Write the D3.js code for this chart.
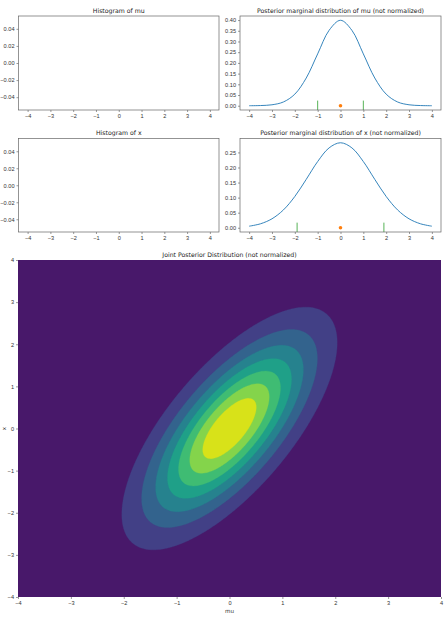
<!DOCTYPE html>
<html>
<head>
<meta charset="utf-8">
<script src="https://cdn.jsdelivr.net/npm/d3@7"></script>
<style>
  body { margin: 0; background: #fff; }
  svg { display: block; font-family: "DejaVu Sans", sans-serif; }
  .tick text { fill: #333; }
  .tick line { stroke: #555; }
</style>
</head>
<body>
<div id="chart"></div>
<script>
// sample points
var gridX = [-4, -3.5, -3, -2.5, -2, -1.5, -1, -0.5, 0, 0.5, 1, 1.5, 2, 2.5, 3, 3.5, 4]
var muDensity = [0.0001, 0.0009, 0.0044, 0.0175, 0.054, 0.1295, 0.242, 0.352, 0.399,
                 0.352, 0.242, 0.1295, 0.054, 0.0175, 0.0044, 0.0009, 0.0001]
var xDensity = [0.0052, 0.0132, 0.0297, 0.0591, 0.1038, 0.1607, 0.2197, 0.265, 0.2821,
                0.265, 0.2197, 0.1607, 0.1038, 0.0591, 0.0297, 0.0132, 0.0052]
var muMarks = [-1, 1]
var xMarks = [-1.9, 1.9]
var pointEstimate = [0, 0]
var xTicks = [-4, -3, -2, -1, 0, 1, 2, 3, 4]
var histTicks = [-0.04, -0.02, 0, 0.02, 0.04]
var muTicks = [0, 0.05, 0.1, 0.15, 0.2, 0.25, 0.3, 0.35, 0.4]
var xdTicks = [0, 0.05, 0.1, 0.15, 0.2, 0.25]
// joint posterior: mean and covariance of (mu, x), contour levels
var jointMean = [0, 0]
var jointCov = [[1, 1], [1, 2]]
var levels = [0, 0.02, 0.04, 0.06, 0.08, 0.1, 0.12, 0.14, 0.16]

var W = 445, H = 617
var svg = d3.select('#chart').append('svg').attr('width', W).attr('height', H)
var tickSize = 5.6

function axesBox(box, xDom, yDom, yTicks, yFmt, title){
  var xs = d3.scaleLinear().domain(xDom).range([box.l, box.r])
  var ys = d3.scaleLinear().domain(yDom).range([box.b, box.t])
  var g = svg.append('g')
  var gx = g.append('g').attr('transform', 'translate(0,' + box.b + ')')
    .call(d3.axisBottom(xs).tickValues(xTicks).tickSize(2).tickPadding(2).tickFormat(d3.format('d')))
  var gy = g.append('g').attr('transform', 'translate(' + box.l + ',0)')
    .call(d3.axisLeft(ys).tickValues(yTicks).tickSize(2).tickPadding(2).tickFormat(d3.format(yFmt)))
  g.selectAll('.domain').remove()
  g.selectAll('.tick text').attr('font-size', tickSize)
  g.selectAll('.tick line').attr('stroke-width', 0.6)
  g.append('text').attr('x', (box.l + box.r) / 2).attr('y', box.t - 3.5)
    .attr('text-anchor', 'middle').attr('font-size', 6.2).attr('fill', '#222').text(title)
  return {g: g, xs: xs, ys: ys}
}

function frame(g, box){
  g.append('rect').attr('x', box.l).attr('y', box.t)
    .attr('width', box.r - box.l).attr('height', box.b - box.t)
    .attr('fill', 'none').attr('stroke', '#666').attr('stroke-width', 0.7)
}

var left = {l: 18.5, r: 219}, right = {l: 240, r: 441}
var row1 = {t: 16, b: 110}, row2 = {t: 138.5, b: 232}

// empty histograms
var h1 = axesBox({l: left.l, r: left.r, t: row1.t, b: row1.b}, [-4.4, 4.4], [-0.055, 0.055], histTicks, '.2f', 'Histogram of mu')
frame(h1.g, {l: left.l, r: left.r, t: row1.t, b: row1.b})
var h2 = axesBox({l: left.l, r: left.r, t: row2.t, b: row2.b}, [-4.4, 4.4], [-0.055, 0.055], histTicks, '.2f', 'Histogram of x')
frame(h2.g, {l: left.l, r: left.r, t: row2.t, b: row2.b})

function marginal(rowBox, dens, marks, ticks, title){
  var box = {l: right.l, r: right.r, t: rowBox.t, b: rowBox.b}
  var mx = d3.max(dens)
  var a = axesBox(box, [-4.4, 4.4], [-0.05 * mx, 1.05 * mx], ticks, '.2f', title)
  var line = d3.line().x(function(d){ return a.xs(d[0]) }).y(function(d){ return a.ys(d[1]) })
    .curve(d3.curveCatmullRom)
  a.g.append('path').datum(d3.zip(gridX, dens)).attr('d', line)
    .attr('fill', 'none').attr('stroke', '#1f77b4').attr('stroke-width', 0.9)
  // vertical marks spanning the lower tenth of the axes
  a.g.selectAll('line.mark').data(marks).enter().append('line').attr('class', 'mark')
    .attr('x1', function(d){ return a.xs(d) }).attr('x2', function(d){ return a.xs(d) })
    .attr('y1', box.b).attr('y2', box.b - 0.1 * (box.b - box.t))
    .attr('stroke', '#2ca02c').attr('stroke-width', 0.8)
  a.g.append('circle').attr('cx', a.xs(pointEstimate[0])).attr('cy', a.ys(pointEstimate[1]))
    .attr('r', 1.8).attr('fill', '#ff7f0e')
  frame(a.g, box)
}

marginal(row1, muDensity, muMarks, muTicks, 'Posterior marginal distribution of mu (not normalized)')
marginal(row2, xDensity, xMarks, xdTicks, 'Posterior marginal distribution of x (not normalized)')

// joint contour plot
var jb = {l: 18, r: 441, t: 260, b: 597}
var jx = d3.scaleLinear().domain([-4, 4]).range([jb.l, jb.r])
var jy = d3.scaleLinear().domain([-4, 4]).range([jb.b, jb.t])
var n = 240
var det = jointCov[0][0] * jointCov[1][1] - jointCov[0][1] * jointCov[1][0]
var inv = [[jointCov[1][1] / det, -jointCov[0][1] / det], [-jointCov[1][0] / det, jointCov[0][0] / det]]
var values = new Array(n * n)
for (var j = 0; j < n; j++){
  for (var i = 0; i < n; i++){
    var a = -4 + (i + 0.5) * 8 / n - jointMean[0]
    var b = -4 + (j + 0.5) * 8 / n - jointMean[1]
    var q = inv[0][0] * a * a + 2 * inv[0][1] * a * b + inv[1][1] * b * b
    values[j * n + i] = Math.exp(-q / 2) / (2 * Math.PI * Math.sqrt(det))
  }
}
var bandColor = function(k){ return d3.interpolateViridis((k + 0.5) / (levels.length - 1)) }
var jg = svg.append('g')
jg.append('clipPath').attr('id', 'jclip').append('rect')
  .attr('x', jb.l).attr('y', jb.t).attr('width', jb.r - jb.l).attr('height', jb.b - jb.t)
jg.append('rect').attr('x', jb.l).attr('y', jb.t).attr('width', jb.r - jb.l).attr('height', jb.b - jb.t)
  .attr('fill', bandColor(0))
var contours = d3.contours().size([n, n]).thresholds(levels.slice(1, -1))(values)
var proj = d3.geoTransform({point: function(px, py){
  this.stream.point(jx(-4 + px * 8 / n), jy(-4 + py * 8 / n))
}})
jg.append('g').attr('clip-path', 'url(#jclip)').selectAll('path').data(contours).enter().append('path')
  .attr('d', d3.geoPath(proj))
  .attr('fill', function(d, k){ return bandColor(k + 1) })
  .attr('stroke', function(d, k){ return bandColor(k + 1) }).attr('stroke-width', 0.3)

var jxAxis = jg.append('g').attr('transform', 'translate(0,' + jb.b + ')')
  .call(d3.axisBottom(jx).tickValues(xTicks).tickSize(2).tickPadding(2).tickFormat(d3.format('d')))
var jyAxis = jg.append('g').attr('transform', 'translate(' + jb.l + ',0)')
  .call(d3.axisLeft(jy).tickValues(xTicks).tickSize(2).tickPadding(2).tickFormat(d3.format('d')))
jg.selectAll('.domain').remove()
jg.selectAll('.tick text').attr('font-size', tickSize)
jg.selectAll('.tick line').attr('stroke-width', 0.6)
jg.append('text').attr('x', (jb.l + jb.r) / 2).attr('y', jb.t - 3.5).attr('text-anchor', 'middle')
  .attr('font-size', 6.2).attr('fill', '#222').text('Joint Posterior Distribution (not normalized)')
jg.append('text').attr('x', (jb.l + jb.r) / 2).attr('y', 613).attr('text-anchor', 'middle')
  .attr('font-size', tickSize).attr('fill', '#333').text('mu')
jg.append('text').attr('transform', 'translate(6,' + ((jb.t + jb.b) / 2) + ') rotate(-90)')
  .attr('text-anchor', 'middle').attr('font-size', tickSize).attr('fill', '#333').text('x')
</script>
</body>
</html>
